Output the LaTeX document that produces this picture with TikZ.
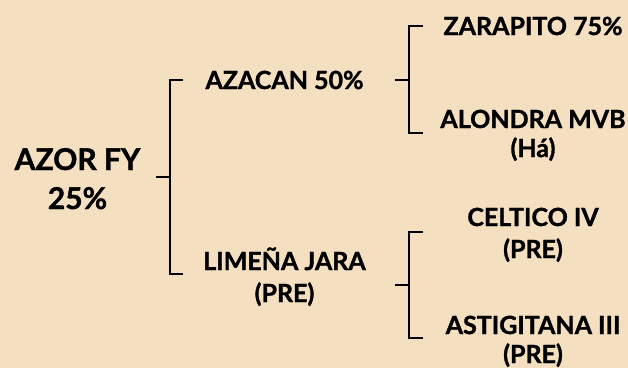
\documentclass[tikz,border=0pt]{standalone}
\usepackage{fontspec}
\setmainfont{Lato}[BoldFont={Lato Bold}, BoldFeatures={FakeBold=1.3}]
\definecolor{bg}{HTML}{F5DFC1}
\begin{document}
\begin{tikzpicture}[x=1pt,y=-1pt,
  lbl/.style 2 args={inner sep=0pt, align=center, font=\bfseries\fontsize{#1}{#2}\selectfont},
  brk/.style={line width=2.7pt, line cap=butt, line join=miter}]
\fill[bg] (0,0) rectangle (628,368);
\useasboundingbox (0,0) rectangle (628,368);
% labels (anchor base = last line baseline)
\node[lbl={30}{39}, anchor=base] (azor) at (77.5,209) {AZOR FY\\25\%};
\node[lbl={25}{30}, anchor=base] (azacan) at (284.5,89) {AZACAN 50\%};
\node[lbl={25}{32}, anchor=base] (limena) at (284.5,302) {LIMEÑA JARA\\(PRE)};
\node[lbl={25}{30}, anchor=base] (zarapito) at (533,35) {ZARAPITO 75\%};
\node[lbl={25}{29}, anchor=base] (alondra) at (533,157) {ALONDRA MVB\\(Há)};
\node[lbl={25}{32}, anchor=base] (celtico) at (533,258) {CELTICO IV\\(PRE)};
\node[lbl={25}{29}, anchor=base] (astig) at (533,363) {ASTIGITANA III\\(PRE)};
% bracket 1
\coordinate (b1m) at (156,177);
\coordinate (b1t) at (183,80);
\coordinate (b1b) at (183,274);
\draw[brk] (b1t) -- (170,80) -- (170,274) -- (b1b);
\draw[brk] (b1m) -- (170,177);
% bracket 2
\coordinate (b2m) at (395,80);
\coordinate (b2t) at (423,26);
\coordinate (b2b) at (423,133);
\draw[brk] (b2t) -- (409,26) -- (409,133) -- (b2b);
\draw[brk] (b2m) -- (409,80);
% bracket 3
\coordinate (b3m) at (395,285);
\coordinate (b3t) at (423,232);
\coordinate (b3b) at (423,338);
\draw[brk] (b3t) -- (409,232) -- (409,338) -- (b3b);
\draw[brk] (b3m) -- (409,285);
\end{tikzpicture}
\end{document}
